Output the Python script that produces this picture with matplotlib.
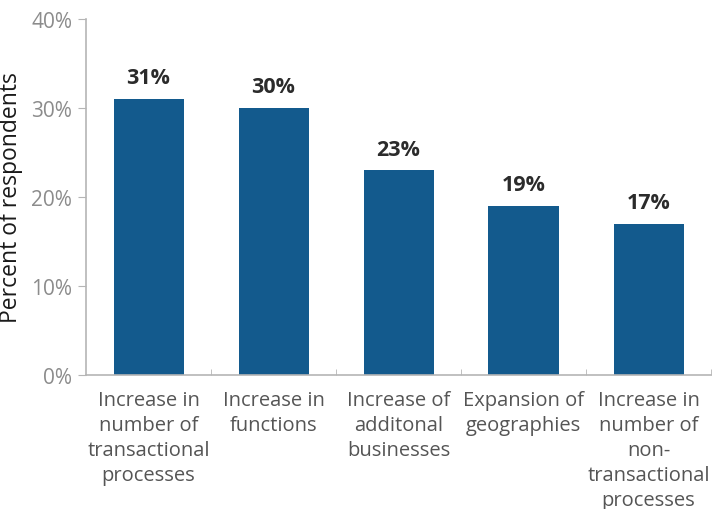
import matplotlib
matplotlib.use("Agg")
import matplotlib.pyplot as plt

plt.rcParams["font.family"] = ["Open Sans", "DejaVu Sans"]

categories = [
    "Increase in\nnumber of\ntransactional\nprocesses",
    "Increase in\nfunctions",
    "Increase of\nadditonal\nbusinesses",
    "Expansion of\ngeographies",
    "Increase in\nnumber of\nnon-\ntransactional\nprocesses",
]
values = [31, 30, 23, 19, 17]
yticks = [0, 10, 20, 30, 40]
ytick_labels = ["0%", "10%", "20%", "30%", "40%"]

bar_color = "#135a8d"
axis_color = "#b5b5b5"

fig = plt.figure(figsize=(7.13, 5.10), dpi=100)
ax = fig.add_axes([86 / 713, 1 - 376 / 510, 625 / 713, 356 / 510])

xs = list(range(len(values)))
ax.bar(xs, values, width=0.56, color=bar_color, zorder=2)
for x, v in zip(xs, values):
    ax.text(x, v + 1.2, f"{v}%", ha="center", va="bottom",
            fontsize=15.5, fontweight="bold", color="#2b2b2b")

ax.set_xlim(-0.5, len(values) - 0.5)
ax.set_ylim(0, 40)
ax.set_yticks(yticks)
ax.set_yticklabels(ytick_labels, fontsize=15, color="#8c8c8c")
ax.set_xticks(xs)
ax.set_xticklabels(categories, fontsize=14.5, color="#555555", linespacing=1.33, va="top")
ax.tick_params(axis="x", length=0, pad=11)
# small separators between categories
ax.set_xticks([x + 0.5 for x in xs[:-1]] + [len(values) - 0.5], minor=True)
ax.tick_params(axis="x", which="minor", direction="in", length=4, color=axis_color)
ax.tick_params(axis="y", length=6, color=axis_color, pad=4)

for side in ["top", "right"]:
    ax.spines[side].set_visible(False)
for side in ["left", "bottom"]:
    ax.spines[side].set_color(axis_color)
    ax.spines[side].set_linewidth(1.2)

ax.set_ylabel("Percent of respondents", fontsize=16.5, color="#1a1a1a", labelpad=6)

fig.savefig("out.png", dpi=100)
